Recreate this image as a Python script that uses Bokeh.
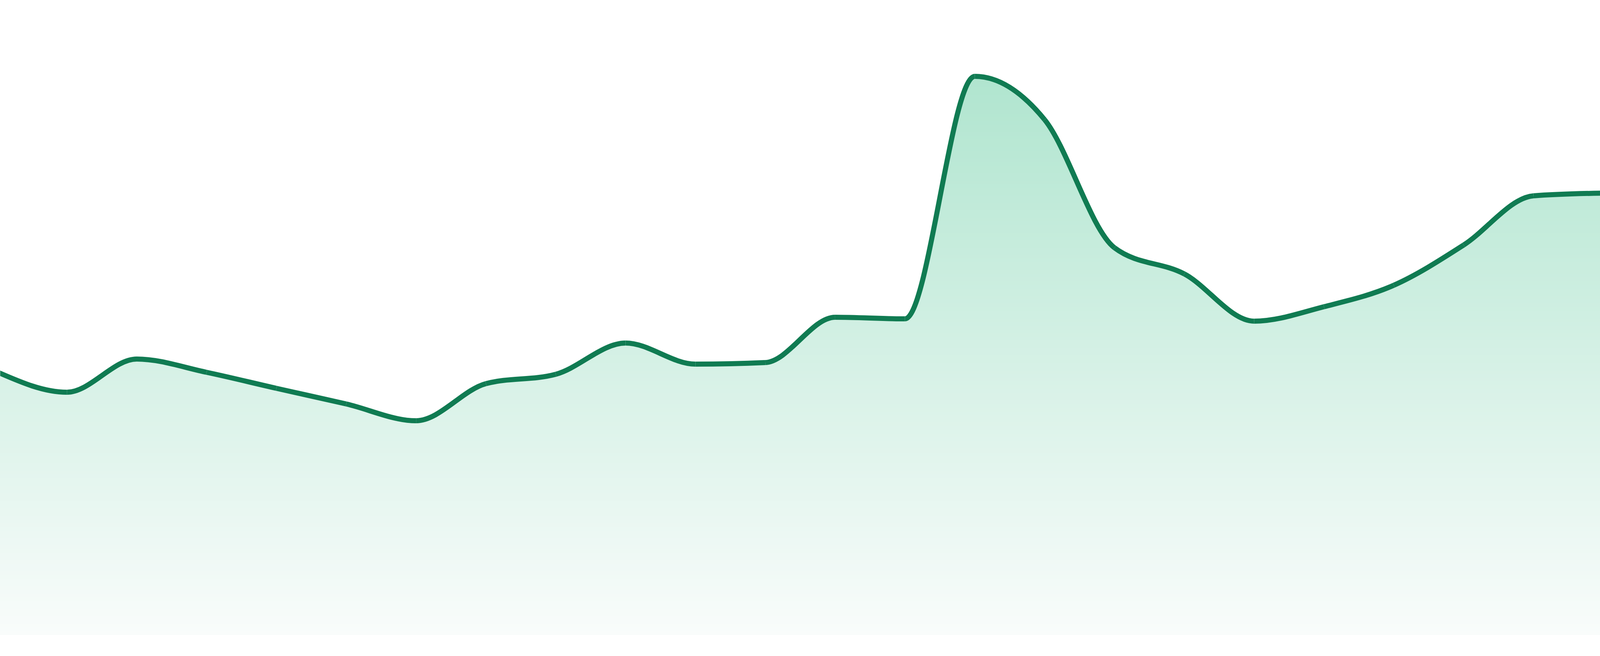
import numpy as np
from bokeh.plotting import figure
from bokeh.models import Range1d
from bokeh.embed import file_html
from bokeh.resources import INLINE

# ---- data ----
points = list(range(24))
values = [673, 621, 706, 672, 631, 591, 548, 643, 667, 747, 693, 697,
          813, 809, 1430, 1319, 991, 924, 803, 840, 895, 998, 1124, 1131]

LINE_COLOR = "#107b52"
TOP_RGB = (176, 229, 207)
BOTTOM_RGB = (249, 252, 251)

x = np.array(points, dtype=float)
y = np.array(values, dtype=float)


# ---- monotone cubic (d3 curveMonotoneX) control points ----
def monotone_tangents(xs, ys):
    n = len(xs)
    t = np.zeros(n)
    for i in range(1, n - 1):
        h0 = xs[i] - xs[i - 1]
        h1 = xs[i + 1] - xs[i]
        s0 = (ys[i] - ys[i - 1]) / h0
        s1 = (ys[i + 1] - ys[i]) / h1
        p = (s0 * h1 + s1 * h0) / (h0 + h1)
        t[i] = (np.sign(s0) + np.sign(s1)) * min(abs(s0), abs(s1), 0.5 * abs(p))
    h = xs[1] - xs[0]
    t[0] = (3 * (ys[1] - ys[0]) / h - t[1]) / 2
    h = xs[-1] - xs[-2]
    t[-1] = (3 * (ys[-1] - ys[-2]) / h - t[-2]) / 2
    return t


tan = monotone_tangents(x, y)
dx = x[1:] - x[:-1]
x0, y0 = x[:-1], y[:-1]
x1, y1 = x[1:], y[1:]
cx0 = x0 + dx / 3
cy0 = y0 + dx * tan[:-1] / 3
cx1 = x1 - dx / 3
cy1 = y1 - dx * tan[1:] / 3

# sampled outline of the same curves for the filled area
tt = np.linspace(0, 1, 41)
xs_list, ys_list = [], []
for i in range(len(x0)):
    a = (1 - tt) ** 3
    b = 3 * (1 - tt) ** 2 * tt
    c = 3 * (1 - tt) * tt ** 2
    d = tt ** 3
    xs_list.append(a * x0[i] + b * cx0[i] + c * cx1[i] + d * x1[i])
    ys_list.append(a * y0[i] + b * cy0[i] + c * cy1[i] + d * y1[i])
cx = np.concatenate(xs_list)
cy = np.concatenate(ys_list)

p = figure(sizing_mode="stretch_width", height=1664, output_backend="svg",
           toolbar_location=None,
           x_axis_location=None, y_axis_location=None,
           x_range=Range1d(0.045, 22.955), y_range=Range1d(-39, 1625),
           min_border=0, min_border_left=0, min_border_right=0,
           min_border_top=0, min_border_bottom=0)
p.outline_line_color = None
p.grid.visible = False
p.background_fill_color = "white"
p.border_fill_color = "white"

# gradient fill: stacked areas, from top band down
vmax = float(y.max())
nb = 150
for k in range(nb, 0, -1):
    top = vmax * k / nb
    f = 1 - (k - 0.5) / nb  # 0 at top, 1 at bottom
    r = int(round(TOP_RGB[0] + (BOTTOM_RGB[0] - TOP_RGB[0]) * f))
    g = int(round(TOP_RGB[1] + (BOTTOM_RGB[1] - TOP_RGB[1]) * f))
    b = int(round(TOP_RGB[2] + (BOTTOM_RGB[2] - TOP_RGB[2]) * f))
    p.varea(x=cx, y1=np.zeros_like(cy), y2=np.minimum(cy, top),
            fill_color="#%02x%02x%02x" % (r, g, b))

p.bezier(x0=x0, y0=y0, x1=x1, y1=y1, cx0=cx0, cy0=cy0, cx1=cx1, cy1=cy1,
         line_color=LINE_COLOR, line_width=13)

open("out.html", "w").write(file_html(p, INLINE))
